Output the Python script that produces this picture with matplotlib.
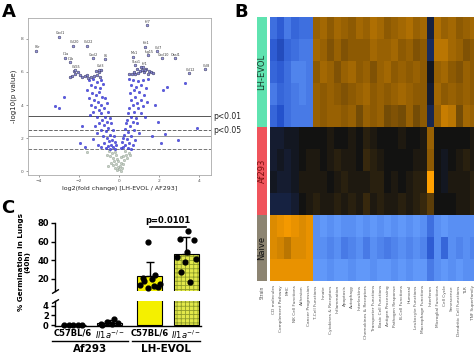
import numpy as np
import matplotlib.pyplot as plt
import matplotlib.transforms as mtransforms
from matplotlib.colors import LinearSegmentedColormap, ListedColormap

plt.rcParams['hatch.linewidth'] = 0.6

# ---------------- Panel A : volcano ----------------
blue_x = [-1.5, -1.3, -1.1, -0.9, -1.4, -1.2, -0.95, -0.8, -1.6, -1.0,
          -1.35, -1.15, -0.85, -1.5, -1.25, -0.7, -1.05, -0.9, -1.4, -0.6, -1.2,
          -0.75, -1.0, -1.3, -0.55, -0.9, -1.1, -0.7, -0.45, -1.45, -0.85, -0.6,
          -1.0, -0.4, -0.75, -1.2, -0.55, -0.9, -0.3, -0.65, -1.1, -0.45, -0.8, -0.25,
          -0.6, -0.35, -1.3, -0.5, -0.2, -0.75, -0.4, -0.15, -0.55, -0.3, -0.9, -0.2,
          -0.45, -0.65, -1.05,
          -2.73, -3.2, -2.98, -1.87, -1.95, -1.7,
          0.5, 0.7, 0.95, 1.2, 1.45, 0.6, 0.85, 1.1, 1.35, 0.75,
          0.55, 1.0, 1.25, 0.8, 0.6, 1.1, 1.4, 0.9, 0.7, 1.2,
          0.5, 0.95, 0.75, 0.45, 1.1, 0.6, 0.85, 1.3, 0.4, 0.7,
          0.35, 0.9, 0.55, 0.3, 0.75, 0.45, 1.0, 0.25, 0.6,
          0.2, 0.4, 0.8, 0.15, 0.5, 0.3, 0.7, 0.2, 0.45, 0.1, 0.6,
          3.3, 2.22, 2.38, 1.97, 2.3, 1.63, 2.08, 2.97, 3.88, 1.8]
blue_y = [5.5, 5.6, 5.4, 5.5, 5.2, 5.1, 5.0, 5.3, 4.9, 4.8,
          4.7, 4.6, 4.5, 4.4, 4.3, 4.4, 4.2, 4.0, 4.0, 4.1, 3.9,
          3.8, 3.7, 3.6, 3.6, 3.5, 3.3, 3.3, 3.2, 3.4, 3.1, 3.0,
          2.9, 2.9, 2.8, 2.7, 2.6, 2.5, 2.5, 2.4, 2.3, 2.2, 2.1, 2.1,
          2.0, 1.9, 1.95, 1.8, 1.75, 1.7, 1.6, 1.55, 1.5, 1.45, 1.45, 1.35,
          1.35, 1.4, 1.6,
          4.5, 3.96, 3.84, 2.75, 1.72, 1.45,
          5.6, 5.5, 5.45, 5.5, 5.6, 5.2, 5.1, 5.2, 5.0, 4.9,
          4.7, 4.8, 4.6, 4.5, 4.3, 4.3, 4.2, 4.1, 4.0, 3.95,
          3.8, 3.8, 3.6, 3.5, 3.5, 3.3, 3.2, 3.3, 3.1, 3.0,
          2.9, 2.9, 2.7, 2.55, 2.5, 2.35, 2.3, 2.2, 2.15,
          2.0, 1.95, 1.9, 1.75, 1.7, 1.6, 1.55, 1.45, 1.4, 1.38, 1.35,
          5.35, 4.9, 5.1, 2.95, 2.22, 2.12, 1.72, 1.88, 2.59, 4.0]

grey_x = [-0.5, -0.35, -0.6, -0.2, -0.45, -0.3, -0.15, -0.25, -0.1, -0.4,
          -0.15, -0.05, -0.2, 0.0, 0.05, 0.1, 0.15, 0.25, 0.2, 0.35,
          0.4, 0.3, 0.5, 0.55, 0.1, -0.55, -0.1, 0.08, -1.58, -0.3, 0.2, -0.05]
grey_y = [1.2, 1.1, 1.0, 1.15, 0.9, 0.8, 0.95, 0.6, 0.7, 0.5,
          0.4, 0.25, 0.2, 0.1, 0.3, 0.5, 0.2, 0.65, 0.9, 1.0,
          0.8, 1.2, 1.1, 0.95, 0.85, 0.3, 0.05, 0.0, 1.17, 0.35, 0.45, 0.6]

clus_x = [-2.35, -2.2, -2.05, -1.95, -1.85, -1.7, -1.55, -1.4, -1.25, -1.1, -1.0,
          -0.9, -0.95, -2.25, -1.15, -1.6, -2.45,
          0.5, 0.65, 0.8, 0.95, 1.05, 1.15, 1.25, 1.35, 1.45, 1.6, 1.7, 0.9,
          1.1, 1.3, 0.75, 1.5]
clus_y = [5.75, 5.85, 6.0, 5.8, 5.7, 5.75, 5.65, 5.7, 5.75, 5.8, 6.0,
          6.1, 5.7, 6.05, 6.05, 5.8, 5.7,
          5.85, 5.9, 5.85, 5.95, 6.05, 6.15, 6.0, 6.2, 5.9, 6.0, 5.95, 6.2,
          6.3, 6.1, 6.0, 6.05]

lab_x = [-4.15, -2.98, -2.3, -1.6, -2.7, -2.45, -1.32, -0.7, 1.38, 1.3,
         1.9, 1.47, 2.15, 2.8, 0.72, 0.8, 3.52, 4.3, -2.2, -1.0, 1.2]
lab_y = [7.3, 8.14, 7.6, 7.6, 6.87, 6.59, 6.83, 6.77, 8.85, 7.54,
         7.27, 7.03, 6.83, 6.83, 6.93, 6.42, 5.92, 6.18, 6.1, 6.15, 6.3]
lab_names = ['Il6r', 'Cxcl1', 'Ccl20', 'Ccl22', 'Il1a', 'Il1b', 'Cxcl2', 'Il6',
             'Irf7', 'Ifit1', 'Ccl7', 'Isg15', 'Cxcl10', 'Oasl1', 'Mx1', 'Stat1',
             'Ccl12', 'Ccl8', 'Cd55', 'Csf3', 'Irf1']

p_cut = [3.33, 2.48, 2.1, 1.33]
p_text = ['p<0.01', 'p<0.05']

# ---------------- Panel B : heatmap ----------------
pathways = ['CD molecules', 'Complement Pathway', 'MHC', 'NK Cell Functions', 'Adhesion',
            'Cancer Progression', 'T-Cell Functions', 'Innate', 'Cytokines & Receptors',
            'Inflammation', 'Apoptosis', 'Autophagy', 'Interleukins', 'Chemokines & Receptors',
            'Transporter Functions', 'Basic Cell Functions', 'Antigen Processing',
            'Pathogen Response', 'B-Cell Functions', 'Humoral', 'Leukocyte Functions',
            'Macrophage Functions', 'Interferon', 'Microglial Functions', 'Cell Cycle',
            'Senescence', 'Dendritic Cell Functions', 'TLR', 'TNF Superfamily']
strain_names = ['LH-EVOL', 'Af293', 'Naive']
strain_rows = [5, 4, 3]
strain_colors = ['#5fe3b0', '#f0545c', '#8c8472']
strain_text = ['#1a3a2a', '#7a1010', '#111111']

lh_evol = [
    [-1.5, -1.3, -1.6, -1.4, -1.5, -1.5, 1.1, 1.2, 1.0, 1.2, 1.1, 1.0, 1.2, 1.1, 1.3, 1.2, 1.0, 1.1, 1.2, 1.3, 1.1, 1.2, -0.3, 1.3, 1.1, 1.2, 1.0, 1.1, 1.2],
    [-1.3, -1.1, -1.4, -1.5, -1.6, -1.6, 1.2, 1.1, 0.9, 1.1, 0.9, 1.0, 1.0, 1.0, 1.2, 1.1, 1.1, 1.2, 1.0, 1.1, 0.9, 1.0, -0.5, 1.4, 1.4, 1.2, 1.1, 0.9, 1.0],
    [-1.4, -1.3, -1.5, -1.7, -1.7, -1.6, 1.0, 1.2, 1.1, 0.9, 1.1, 1.2, 1.0, 1.1, 0.9, 1.1, 1.2, 1.0, 1.1, 1.0, 1.1, 1.0, -0.1, 1.1, 1.2, 1.0, 0.9, 1.1, 1.0],
    [-1.6, -1.4, -1.5, -1.6, -1.7, -1.6, 1.1, 1.0, 1.1, 1.0, 0.9, 1.0, 1.1, 1.2, 1.0, 1.1, 1.0, 1.1, 1.2, 1.1, 1.0, 1.0, -0.2, 1.2, 1.0, 1.1, 1.0, 1.1, 1.0],
    [-1.4, -1.2, -1.5, -1.6, -1.6, -1.6, 1.1, 1.0, 1.1, 1.1, 1.0, 1.1, 0.8, 1.1, 1.0, 1.1, 0.8, 0.9, 0.8, 1.1, 0.8, 1.0, -0.4, 1.1, 1.5, 1.4, 0.8, 1.2, 1.1],
]
af293 = [
    [-0.2, -0.2, -0.1, -0.1, 0.0, 0.0, 0.0, 0.0, 0.1, 0.0, 0.0, 0.1, 0.0, 0.2, 0.1, 0.0, 0.0, 0.0, 0.1, 0.0, 0.0, 0.1, 1.1, 0.0, 0.0, 0.0, 0.0, 0.0, 0.1],
    [-0.2, -0.1, -0.2, -0.1, 0.0, 0.1, 0.1, 0.0, 0.1, 0.2, 0.1, 0.1, 0.0, 0.3, 0.2, 0.1, 0.0, 0.0, 0.0, 0.0, 0.1, 0.1, 1.0, 0.0, -0.1, 0.0, 0.1, 0.2, 0.1],
    [-0.1, -0.2, -0.2, -0.1, 0.1, 0.1, 0.1, 0.1, 0.0, 0.1, 0.2, 0.1, 0.1, 0.1, 0.2, 0.2, 0.0, 0.1, 0.0, 0.1, 0.2, 0.2, 2.0, 0.0, -0.1, 0.1, 0.1, 0.1, 0.2],
    [-0.3, -0.3, -0.3, -0.2, 0.0, 0.1, 0.2, 0.1, 0.1, 0.2, 0.1, 0.2, 0.1, 0.3, 0.1, 0.2, 0.1, 0.1, 0.2, 0.1, 0.2, 0.3, 0.6, 0.0, 0.0, 0.0, 0.1, 0.1, 0.2],
]
naive = [
    [1.7, 1.8, 1.9, 1.8, 1.7, 1.8, -1.8, -1.9, -1.8, -1.9, -1.8, -1.8, -1.9, -1.8, -1.9, -1.8, -1.9, -1.8, -1.9, -1.8, -1.9, -1.8, -1.5, -1.8, -1.9, -1.8, -1.8, -1.8, -1.8],
    [1.7, 1.6, 1.4, 1.7, 1.7, 1.8, -1.8, -1.8, -1.7, -1.8, -1.6, -1.7, -1.8, -1.6, -1.8, -1.7, -1.6, -1.7, -1.8, -1.7, -1.8, -1.7, -1.3, -1.8, -1.4, -1.8, -1.7, -1.8, -1.7],
    [1.8, 1.8, 1.8, 1.8, 1.8, 1.8, -1.9, -1.9, -1.8, -1.9, -1.9, -1.8, -1.9, -1.9, -1.8, -1.9, -1.9, -1.8, -1.9, -1.8, -1.9, -1.9, -1.6, -1.8, -1.9, -1.8, -1.9, -1.8, -1.8],
]

# ---------------- Panel C : germination bars ----------------
bar_groups = ['Af293', 'LH-EVOL']
bar_strain = ['C57BL/6', r'$\mathit{Il1a}^{-/-}$', 'C57BL/6', r'$\mathit{Il1a}^{-/-}$']
bar_pos = [0, 1, 2.1, 3.1]
bar_mean = [0, 0.45, 23, 47]
bar_sd = [0, 0.55, 15.5, 18]
dot_vals = [
    [0, 0, 0, 0, 0],
    [0.1, 0.6, 1.3, 0.4, 0.15, 0.2],
    [59.6, 24, 21, 20, 14, 13, 12.5, 10, 11.5, 18],
    [71, 62.8, 62, 49, 43, 41, 38, 27, 17],
]
dot_dx = [
    [-0.25, -0.12, 0.0, 0.12, 0.25],
    [-0.2, -0.08, 0.12, 0.22, -0.25, 0.05],
    [-0.05, 0.15, -0.2, 0.05, 0.28, -0.28, 0.1, -0.05, 0.22, -0.15],
    [0.05, -0.18, 0.2, 0.03, -0.25, 0.25, -0.05, -0.15, 0.1],
]
p_label = 'p=0.0101'

fig = plt.figure(figsize=(4.74, 3.54), dpi=100)

# ===== A =====
axA = fig.add_axes([28/474, 1-175/354, 183/474, 157/354])
axA.scatter(grey_x, grey_y, s=3, facecolor='#c8d0c8', edgecolor='#8a9a8a', linewidth=0.3, zorder=2)
axA.scatter(blue_x, blue_y, s=3, facecolor='#5a5ae8', edgecolor='#1c1cb8', linewidth=0.3, zorder=3)
axA.scatter(clus_x, clus_y, s=4, facecolor='#8a8ad8', edgecolor='#222244', linewidth=0.3, zorder=4)
axA.scatter(lab_x, lab_y, s=4, facecolor='#9a9ae0', edgecolor='#222244', linewidth=0.3, zorder=4)
for x, y, t in zip(lab_x, lab_y, lab_names):
    axA.text(x + 0.05, y + 0.08, t, fontsize=2.4, color='#333333', ha='center', va='bottom', zorder=5)

styles = [('-', '#555555'), ('--', '#666666'), ('-', '#999999'), ('--', '#777777')]
for v, (ls, c) in zip(p_cut, styles):
    axA.axhline(v, ls=ls, color=c, lw=0.7, zorder=1)
trA = mtransforms.blended_transform_factory(axA.transAxes, axA.transData)
for v, t in zip(p_cut[:2], p_text):
    axA.text(1.01, v, t, transform=trA, fontsize=5.5, va='center', ha='left', color='#222222')

axA.set_xlim(-4.55, 4.6)
axA.set_ylim(-0.24, 9.27)
axA.set_xticks([-4, -2, 0, 2, 4])
axA.set_yticks([0, 2, 4, 6, 8])
axA.tick_params(labelsize=3.2, length=1.5, width=0.4, colors='#555555', pad=1.5)
for s in axA.spines.values():
    s.set_color('#aaaaaa')
    s.set_linewidth(0.6)
axA.set_xlabel('log2(fold change) [LH-EVOL / AF293]', fontsize=4.5, labelpad=2, color='#222222')
axA.set_ylabel('-log10(p value)', fontsize=5, labelpad=3, color='#222222')

# ===== B =====
hm_cmap = LinearSegmentedColormap.from_list(
    'bko', [(0.0, '#6aa2ff'), (0.2, '#2552cc'), (0.5, '#121212'), (0.75, '#8c5a04'), (1.0, '#ffa000')])
mat = np.array(lh_evol + af293 + naive)
axB = fig.add_axes([270/474, 1-281/354, 207/474, 264/354])
axB.imshow(mat, aspect='auto', cmap=hm_cmap, vmin=-2, vmax=2, interpolation='nearest')
axB.set_xticks(range(len(pathways)))
axB.set_xticklabels(pathways, rotation=90, fontsize=3.1, color='#555555')
axB.set_yticks([])
axB.tick_params(length=0, pad=3)
for s in axB.spines.values():
    s.set_visible(False)

axS = fig.add_axes([257/474, 1-281/354, 10/474, 264/354])
idx = np.repeat(np.arange(len(strain_rows)), strain_rows)[:, None]
axS.imshow(idx, aspect='auto', cmap=ListedColormap(strain_colors), interpolation='nearest')
axS.set_xticks([0])
axS.set_xticklabels(['Strain'], rotation=90, fontsize=3.3, color='#555555')
axS.set_yticks([])
axS.tick_params(length=0, pad=3)
for s in axS.spines.values():
    s.set_visible(False)
start = 0
for name, n, c in zip(strain_names, strain_rows, strain_text):
    axS.text(0, start + n / 2 - 0.5, name, rotation=90, ha='center', va='center',
             fontsize=6, color=c)
    start += n

# ===== C =====
axU = fig.add_axes([55/474, 1-291/354, 146/474, 68/354])
axL = fig.add_axes([55/474, 1-326/354, 146/474, 25/354])
face = ['white', 'white', '#f4f000', '#e2e84a']
hatch = [None, None, None, '++++']
for ax, lo, hi in ((axU, 7, 100), (axL, -1, 5)):
    for i in range(4):
        ax.bar(bar_pos[i], bar_mean[i], width=0.68, color=face[i], hatch=hatch[i],
               edgecolor='#8f9c2a' if hatch[i] else 'black', linewidth=0.0 if hatch[i] else 0.8, zorder=2)
        if hatch[i]:
            ax.bar(bar_pos[i], bar_mean[i], width=0.68, fill=False, edgecolor='black', linewidth=0.8, zorder=3)
        ax.errorbar(bar_pos[i], bar_mean[i], yerr=[[0], [bar_sd[i]]], color='black',
                    lw=1.0, capsize=3, capthick=1.0, zorder=4)
        xs = [bar_pos[i] + d for d, v in zip(dot_dx[i], dot_vals[i]) if lo <= v <= hi]
        ys = [v for v in dot_vals[i] if lo <= v <= hi]
        ax.scatter(xs, ys, s=12, color='black', zorder=5, clip_on=False)
    ax.set_xlim(-0.5, 3.5)
    ax.spines['top'].set_visible(False)
    ax.spines['right'].set_visible(False)
    ax.spines['left'].set_linewidth(1.0)
    ax.tick_params(axis='y', labelsize=6, width=1.0, length=3, pad=1.5)

axU.set_ylim(7, 80)
axU.set_yticks([20, 40, 60, 80])
axU.set_yticklabels(['20', '40', '60', '80'], fontweight='bold')
axU.spines['bottom'].set_visible(False)
axU.set_xticks([])
axL.set_ylim(-0.2, 5)
axL.set_yticks([0, 2, 4])
axL.set_yticklabels(['0', '2', '4'], fontweight='bold')
axL.spines['bottom'].set_linewidth(1.0)
axL.set_xticks(bar_pos)
axL.set_xticklabels(bar_strain, fontsize=6, fontweight='bold')
axL.tick_params(axis='x', length=0, pad=2)

brk = dict(marker=[(-1, -0.6), (1, 0.6)], markersize=5, linestyle='none', color='k',
           mec='k', mew=1.0, clip_on=False)
axU.plot([0], [0], transform=axU.transAxes, **brk)
axL.plot([0], [1], transform=axL.transAxes, **brk)

# significance bracket
axU.plot([bar_pos[2], bar_pos[3]], [76, 76], color='black', lw=1.2, clip_on=False)
axU.text((bar_pos[2] + bar_pos[3]) / 2, 78, p_label, ha='center', va='bottom',
         fontsize=6, fontweight='bold')

trL = mtransforms.blended_transform_factory(axL.transData, axL.transAxes)
for name, (x0, x1) in zip(bar_groups, [(-0.58, 1.5), (1.62, 3.48)]):
    axL.plot([x0, x1], [-0.6, -0.6], transform=trL, color='black', lw=1.0, clip_on=False)
    axL.text((x0 + x1) / 2, -0.72, name, transform=trL, ha='center', va='top',
             fontsize=7.5, fontweight='bold')

fig.text(24/474, 1-262/354, '% Germination in Lungs\n(40h)', rotation=90, ha='center',
         va='center', fontsize=5.2, fontweight='bold', linespacing=1.1)

fig.text(2/474, 1-12/354, 'A', fontsize=13, fontweight='bold', va='center')
fig.text(234/474, 1-12/354, 'B', fontsize=13, fontweight='bold', va='center')
fig.text(1/474, 1-208/354, 'C', fontsize=13, fontweight='bold', va='center')

fig.savefig('out.png', dpi=100)
